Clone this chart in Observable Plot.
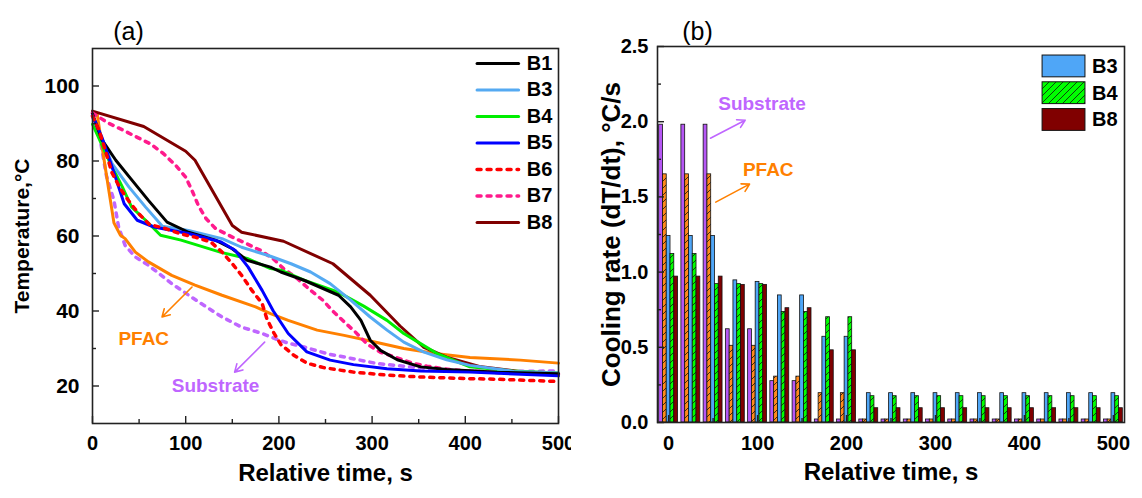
<!DOCTYPE html>
<html><head><meta charset="utf-8">
<script src="https://cdn.jsdelivr.net/npm/d3@7"></script>
<script src="https://cdn.jsdelivr.net/npm/@observablehq/plot@0.6"></script>
<style>
body{margin:0;background:#fff;}
#wrap{display:flex;width:1142px;height:498px;overflow:hidden;}
</style></head><body><div id="wrap"></div>
<script>
// ---------- Panel (a): temperature curves, [time s, temperature °C] ----------
const B1 = [[0,92.5],[10,85.7],[25,80.2],[41,75.3],[60,69.5],[80,63.7],[103,61],[132,58.9],[150,56.6],[166,53.5],[191,51.7],[202,50.4],[227,48.2],[264,44.2],[277,41.1],[288,37.5],[298,32.2],[309,29.5],[327,27],[352,25.1],[380,24.4],[434,23.7],[500,23.3]];
const B3 = [[0,92],[21,79.3],[39,73.1],[57,67.7],[75,62.6],[103,61.5],[139,59.3],[160,57],[191,54.6],[213,52.6],[234,50.4],[255,47.3],[277,42.9],[298,38.4],[316,34.9],[334,31.7],[355,29.1],[380,27],[405,25.5],[452,23.9],[500,23.5]];
const B4 = [[0,89.8],[17.5,80.2],[32,73.1],[42,67.7],[57,64.2],[73,60.2],[95,58.9],[137,55.7],[166,54],[191,51.3],[202,50.9],[227,48.2],[263,45.1],[291,41.3],[316,37.5],[334,34],[352,31.3],[370,28.6],[405,25.1],[450,24],[500,23.5]];
const B5 = [[0,92.2],[10,86.4],[21,78.4],[34,68.6],[48,64.2],[66,62.4],[104,60.6],[138,58.4],[153,56.2],[167,51.7],[182,45.5],[194,40],[210,34],[230,29.1],[255,26.9],[280,25.7],[316,24.6],[352,24],[405,23.7],[500,22.7]];
const B6 = [[0,92],[7,88.2],[12,84.2],[21,76.8],[30,72.6],[39,69.3],[49,66.1],[61,63.1],[78,62],[94,60.6],[110,59.7],[127,58.4],[139,55.7],[150,52.6],[160,49.5],[171,45.5],[182,42],[187,38],[194,34.4],[202,31.1],[216,28.2],[230,26.1],[248,24.9],[280,23.7],[316,22.9],[352,22.4],[398,22],[434,21.8],[500,21.2]];
const B7 = [[0,92.8],[17,90.1],[33,88.2],[48,86.3],[62,84.6],[76,82],[89,78.9],[100,75.7],[107,72],[114,67.9],[122,64.6],[132,62],[150,59.7],[164,58.1],[180,56.2],[195,53.7],[205,51.3],[220,48.6],[234,45.5],[247,42.9],[257,40.2],[270,37.1],[282,34.4],[295,31.1],[309,29],[326,27.6],[343,26.1],[359,25.3],[376,24.6],[393,24.2],[430,23.6],[500,23.2]];
const B8 = [[0,93.3],[55,89.2],[100,82.6],[110,80.2],[150,62.8],[160,61],[205,58.6],[258,52.6],[298,44.2],[330,36],[355,30.4],[380,27.7],[415,25.2],[460,23.8],[500,23.1]];
const PFAC = [[0,93],[5,92.6],[12,81],[17.5,72.2],[23,63.5],[30,60.2],[35,59.3],[46,55.7],[60,53.1],[85,49.5],[110,46.9],[139,44.2],[175,41.1],[191,39.3],[210,37.5],[241,34.9],[270,33.5],[298,32],[334,30],[370,28.6],[405,27.6],[459,26.9],[500,26.1]];
const Substrate = [[0,92],[8,86],[15,76],[23,69.5],[28,62.4],[35,57.5],[46,54.4],[60,52.2],[85,47.3],[114,42.4],[139,38.4],[160,35.7],[182,34],[196,32.6],[209,31.5],[227,30.4],[255,28.4],[273,27.6],[305,26],[341,25.1],[370,24.4],[395,24],[450,23.9],[500,24]];
const legendNamesA = ["B1","B3","B4","B5","B6","B7","B8"];
const xTicksA = [0,100,200,300,400,500], xMinorA = [50,150,250,350,450];
const yTicksA = [20,40,60,80,100], yMinorA = [30,50,70,90];

// ---------- Panel (b): cooling rate bars ----------
const timesB = [0,25,50,75,100,125,150,175,200,225,250,275,300,325,350,375,400,425,450,475,500];
const rateSubstrate = [1.98,1.98,1.98,0.62,0.62,0.275,0.275,0.02,0.02,0.02,0.02,0.02,0.02,0.02,0.02,0.02,0.02,0.02,0.02,0.02,0.02];
const ratePFAC = [1.65,1.65,1.65,0.51,0.51,0.305,0.305,0.195,0.195,0.02,0.02,0.02,0.02,0.02,0.02,0.02,0.02,0.02,0.02,0.02,0.02];
const rateB3 = [1.24,1.24,1.24,0.945,0.935,0.845,0.845,0.57,0.57,0.195,0.195,0.195,0.195,0.195,0.195,0.195,0.195,0.195,0.195,0.195,0.195];
const rateB4 = [1.12,1.12,0.92,0.92,0.92,0.735,0.735,0.70,0.70,0.175,0.175,0.175,0.175,0.175,0.175,0.175,0.175,0.175,0.175,0.175,0.175];
const rateB8 = [0.97,0.97,0.97,0.915,0.915,0.76,0.76,0.48,0.48,0.095,0.095,0.095,0.095,0.095,0.095,0.095,0.095,0.095,0.095,0.095,0.095];
const xTicksB = [0,100,200,300,400,500], xMinorB = [50,150,250,350,450];
const yTicksB = [0,0.5,1,1.5,2,2.5], yMinorB = [0.25,0.75,1.25,1.75,2.25];
const legendNamesB = ["B3","B4","B8"];

// ---------- styles ----------
const FONT = "'Liberation Sans', Arial, sans-serif";
const DOT = "4,6";
const lineStyle = {
  B1:{stroke:"#000000"}, B3:{stroke:"#55aaf2"}, B4:{stroke:"#00ee00"}, B5:{stroke:"#0000ff"},
  B6:{stroke:"#ff0000", dash:DOT}, B7:{stroke:"#ff1a8c", dash:DOT}, B8:{stroke:"#800000"},
  PFAC:{stroke:"#ff8000"}, Substrate:{stroke:"#bf66ff", dash:DOT}
};
const seriesData = {B1,B3,B4,B5,B6,B7,B8,PFAC,Substrate};
const drawOrder = ["Substrate","PFAC","B8","B7","B4","B3","B1","B5","B6"];

const W = 571, H = 498;
const mA = {left:92, right:13, top:48, bottom:75};
const innerWA = W - mA.left - mA.right, innerHA = H - mA.top - mA.bottom;

function lineMark(name, data) {
  const s = lineStyle[name];
  return Plot.line(data, {x: d => d[0], y: d => d[1], stroke: s.stroke, strokeWidth: s.dash ? 3.5 : 3,
    strokeDasharray: s.dash || null, strokeLinejoin: "round", curve: "linear"});
}

// legend layout (data space)
const legA = {x1: 412.6, x2: 457.2, xt: 466, y0: 106, step: 7.07};

const plotA = Plot.plot({
  width: W, height: H,
  marginLeft: mA.left, marginRight: mA.right, marginTop: mA.top, marginBottom: mA.bottom,
  style: {fontFamily: FONT, fontSize: "20px", fontWeight: "bold", color: "#000", background: "#fff", overflow: "visible"},
  x: {domain: [0, 500]},
  y: {domain: [10, 110]},
  marks: [
    ...drawOrder.map(n => lineMark(n, seriesData[n])),
    Plot.frame({stroke: "#222", strokeWidth: 1.6}),
    Plot.tickX(xTicksA, {x: d => d, insetTop: innerHA - 7, stroke: "#222", strokeWidth: 1.4}),
    Plot.tickX(xMinorA, {x: d => d, insetTop: innerHA - 4, stroke: "#222", strokeWidth: 1.4}),
    Plot.tickY(yTicksA, {y: d => d, insetRight: innerWA - 7, stroke: "#222", strokeWidth: 1.4}),
    Plot.tickY(yMinorA, {y: d => d, insetRight: innerWA - 4, stroke: "#222", strokeWidth: 1.4}),
    Plot.axisX({ticks: xTicksA, tickSize: 0, tickPadding: 12, label: null}),
    Plot.axisY({ticks: yTicksA, tickSize: 0, tickPadding: 13, label: null, fontSize: 21}),
    // legend
    ...legendNamesA.map((n, i) => lineMark(n, [[legA.x1, legA.y0 - i*legA.step],[legA.x2, legA.y0 - i*legA.step]])),
    Plot.text(legendNamesA, {x: legA.xt, y: (d, i) => legA.y0 - i*legA.step, text: d => d, textAnchor: "start", fontSize: 20, fontWeight: "bold"}),
    // annotations
    Plot.arrow([{x1:106.8,y1:46.4,x2:74.6,y2:38.4}], {x1:"x1",y1:"y1",x2:"x2",y2:"y2", stroke:"#ff8000", strokeWidth:1.6, headLength:8}),
    Plot.text(["PFAC"], {x: 55, y: 32.6, text: d => d, fill: "#ff8000", fontSize: 19, fontWeight: "bold"}),
    Plot.arrow([{x1:184.7,y1:31.7,x2:152.5,y2:23.7}], {x1:"x1",y1:"y1",x2:"x2",y2:"y2", stroke:"#bf66ff", strokeWidth:1.6, headLength:8}),
    Plot.text(["Substrate"], {x: 132, y: 20.1, text: d => d, fill: "#bf66ff", fontSize: 19, fontWeight: "bold"}),
    // titles
    Plot.text(["(a)"], {frameAnchor: "top-left", dx: 36, dy: -26, textAnchor: "middle", text: d => d, fontSize: 25, fontWeight: "normal"}),
    Plot.text(["Temperature,°C"], {frameAnchor: "left", dx: -70, rotate: -90, textAnchor: "middle", text: d => d, fontSize: 21, fontWeight: "bold"}),
    Plot.text(["Relative time, s"], {frameAnchor: "bottom", dy: 57, textAnchor: "middle", text: d => d, fontSize: 24, fontWeight: "bold"})
  ]
});

// ---------- Panel (b) ----------
const mB = {left:86, right:18, top:46, bottom:76};
const innerWB = W - mB.left - mB.right, innerHB = H - mB.top - mB.bottom;
const barW = 4.25;
const barSeries = [
  {name:"Substrate", values: rateSubstrate, fill:"#b657f5", off:-2},
  {name:"PFAC", values: ratePFAC, fill:"url(#hatchOrange)", off:-1},
  {name:"B3", values: rateB3, fill:"#4fa6f7", off:0},
  {name:"B4", values: rateB4, fill:"url(#hatchGreen)", off:1},
  {name:"B8", values: rateB8, fill:"#800000", off:2}
];
const legendFillB = {B3:"#4fa6f7", B4:"url(#hatchGreen)", B8:"#800000"};
const legB = {x1: 420.4, x2: 468.6, xt: 476, yTop: 2.44, boxH: 0.145, step: 0.178};

const plotB = Plot.plot({
  width: W, height: H,
  marginLeft: mB.left, marginRight: mB.right, marginTop: mB.top, marginBottom: mB.bottom,
  style: {fontFamily: FONT, fontSize: "20px", fontWeight: "bold", color: "#000", background: "#fff", overflow: "visible"},
  x: {domain: [-12.5, 512.5]},
  y: {domain: [0, 2.5]},
  marks: [
    ...barSeries.map(s => Plot.rectY(timesB.map((t, i) => ({t, v: s.values[i]})), {
      x1: d => d.t + s.off*barW - barW/2, x2: d => d.t + s.off*barW + barW/2,
      y1: 0, y2: d => d.v, fill: s.fill, stroke: "#111", strokeWidth: 0.8})),
    Plot.frame({stroke: "#222", strokeWidth: 1.6}),
    Plot.tickX(xTicksB, {x: d => d, insetTop: innerHB - 7, stroke: "#222", strokeWidth: 1.4}),
    Plot.tickX(xMinorB, {x: d => d, insetTop: innerHB - 4, stroke: "#222", strokeWidth: 1.4}),
    Plot.tickY(yTicksB, {y: d => d, insetRight: innerWB - 7, stroke: "#222", strokeWidth: 1.4}),
    Plot.tickY(yMinorB, {y: d => d, insetRight: innerWB - 4, stroke: "#222", strokeWidth: 1.4}),
    Plot.axisX({ticks: xTicksB, tickSize: 0, tickPadding: 13, label: null}),
    Plot.axisY({ticks: yTicksB, tickSize: 0, tickPadding: 9, tickFormat: d3.format(".1f"), label: null}),
    // legend
    Plot.rect(legendNamesB, {x1: legB.x1, x2: legB.x2,
      y1: (d, i) => legB.yTop - i*legB.step - legB.boxH, y2: (d, i) => legB.yTop - i*legB.step,
      fill: d => legendFillB[d], stroke: "#111", strokeWidth: 1}),
    Plot.text(legendNamesB, {x: legB.xt, y: (d, i) => legB.yTop - i*legB.step - legB.boxH/2, text: d => d,
      textAnchor: "start", fontSize: 20, fontWeight: "bold"}),
    // annotations
    Plot.arrow([{x1:47,y1:1.89,x2:86,y2:2.01}], {x1:"x1",y1:"y1",x2:"x2",y2:"y2", stroke:"#bf66ff", strokeWidth:1.6, headLength:8}),
    Plot.text(["Substrate"], {x: 105, y: 2.115, text: d => d, fill: "#bf66ff", fontSize: 19, fontWeight: "bold"}),
    Plot.arrow([{x1:53,y1:1.465,x2:91,y2:1.585}], {x1:"x1",y1:"y1",x2:"x2",y2:"y2", stroke:"#ff8000", strokeWidth:1.6, headLength:8}),
    Plot.text(["PFAC"], {x: 112, y: 1.68, text: d => d, fill: "#ff8000", fontSize: 19, fontWeight: "bold"}),
    // titles
    Plot.text(["(b)"], {frameAnchor: "top-left", dx: 40, dy: -24, textAnchor: "middle", text: d => d, fontSize: 25, fontWeight: "normal"}),
    Plot.text(["Cooling rate (dT/dt), °C/s"], {frameAnchor: "left", dx: -46, rotate: -90, textAnchor: "middle", text: d => d, fontSize: 26, fontWeight: "bold"}),
    Plot.text(["Relative time, s"], {frameAnchor: "bottom", dy: 57, textAnchor: "middle", text: d => d, fontSize: 24, fontWeight: "bold"})
  ]
});

// hatch patterns
const defs = d3.select(plotB).insert("defs", ":first-child");
[["hatchOrange", "#ff8a1c"], ["hatchGreen", "#00ff00"]].forEach(([id, col]) => {
  const p = defs.append("pattern").attr("id", id).attr("patternUnits", "userSpaceOnUse")
    .attr("width", 7).attr("height", 7);
  p.append("rect").attr("width", 7).attr("height", 7).attr("fill", col);
  p.append("path").attr("d", "M-1,1 L1,-1 M0,7 L7,0 M6,8 L8,6").attr("stroke", "#111").attr("stroke-width", 0.8);
});

document.getElementById("wrap").append(plotA, plotB);
</script></body></html>
